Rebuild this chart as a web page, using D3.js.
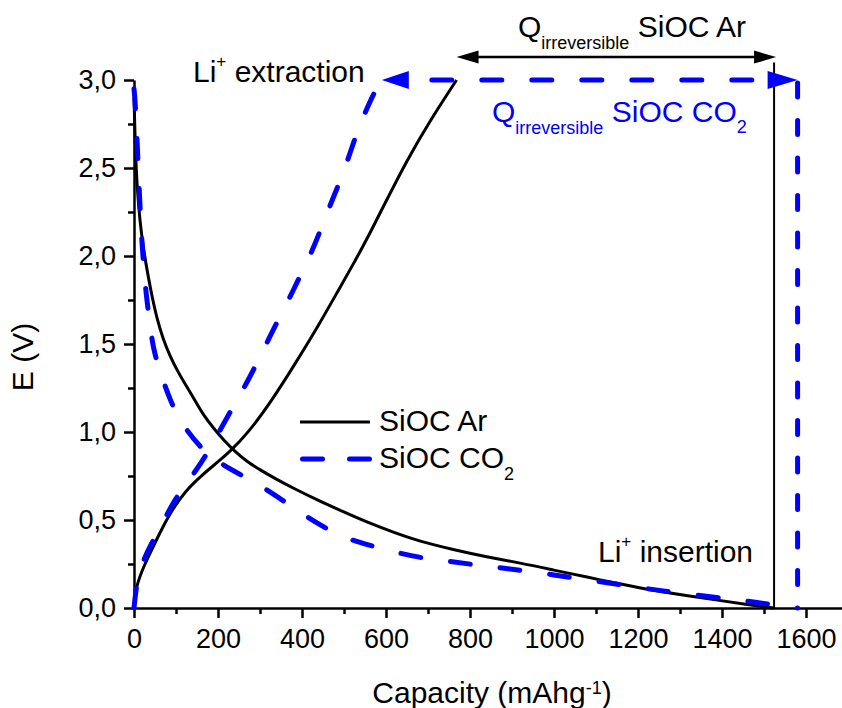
<!DOCTYPE html>
<html>
<head>
<meta charset="utf-8">
<script src="https://cdn.jsdelivr.net/npm/d3@7"></script>
<style>
  body { margin: 0; background: #fff; }
  svg { display: block; }
  text { font-family: "Liberation Sans", Arial, sans-serif; }
</style>
</head>
<body>
<svg id="chart" width="842" height="708"></svg>
<script>
// First-cycle galvanostatic profiles of SiOC anodes (Ar vs CO2 pyrolysis)

// SiOC Ar — lithiation (Li+ insertion), capacity in mAh/g, potential in V
const arInsertQ = [0, 2, 5, 9, 14, 22, 31, 42, 55, 69, 86, 105, 125, 145, 164, 190, 215, 240, 270, 300, 340, 380, 435, 500, 554, 620, 681, 760, 840, 919, 1000, 1078, 1160, 1236, 1320, 1395, 1460, 1524];
const arInsertE = [2.90, 2.72, 2.49, 2.35, 2.20, 2.05, 1.92, 1.78, 1.64, 1.53, 1.43, 1.34, 1.26, 1.18, 1.10, 1.02, 0.95, 0.89, 0.83, 0.785, 0.73, 0.68, 0.615, 0.545, 0.488, 0.428, 0.378, 0.332, 0.29, 0.256, 0.215, 0.176, 0.135, 0.10, 0.068, 0.043, 0.02, 0.0];

// SiOC Ar — delithiation (Li+ extraction)
const arExtractQ = [0, 2, 6, 14, 26, 40, 60, 86, 120, 164, 200, 229, 270, 326, 387, 443, 490, 526, 562, 602, 649, 705, 768];
const arExtractE = [0, 0.06, 0.12, 0.18, 0.25, 0.32, 0.42, 0.54, 0.66, 0.76, 0.83, 0.89, 0.99, 1.17, 1.40, 1.62, 1.82, 1.97, 2.13, 2.32, 2.54, 2.77, 3.0];

// SiOC CO2 — lithiation
const co2InsertQ = [0, 2, 5, 8, 11, 15, 19, 24, 29, 37, 45, 62, 86, 110, 157, 205, 264, 319, 379, 436, 498, 555, 617, 681, 752, 812, 871, 931, 995, 1050, 1181, 1245, 1424, 1486, 1580];
const co2InsertE = [2.95, 2.90, 2.78, 2.62, 2.45, 2.25, 2.07, 1.92, 1.78, 1.63, 1.48, 1.34, 1.18, 1.06, 0.91, 0.82, 0.745, 0.67, 0.57, 0.48, 0.40, 0.36, 0.32, 0.285, 0.265, 0.245, 0.23, 0.21, 0.19, 0.17, 0.125, 0.10, 0.05, 0.03, 0.0];

// SiOC CO2 — delithiation
const co2ExtractQ = [0, 3, 7, 15, 26, 40, 55, 72, 90, 108, 126, 150, 176, 200, 240, 269, 305, 331, 364, 390, 419, 443, 467, 490, 514, 533, 555, 572, 590];
const co2ExtractE = [0, 0.07, 0.14, 0.22, 0.29, 0.36, 0.42, 0.50, 0.585, 0.65, 0.71, 0.79, 0.885, 0.99, 1.16, 1.28, 1.45, 1.58, 1.73, 1.86, 2.0, 2.14, 2.29, 2.42, 2.58, 2.72, 2.84, 2.93, 3.0];

const xTicks = [0, 200, 400, 600, 800, 1000, 1200, 1400, 1600];
const xMinorTicks = [100, 300, 500, 700, 900, 1100, 1300, 1500, 1700];
const yTicks = [0, 0.5, 1.0, 1.5, 2.0, 2.5, 3.0];
const yMinorTicks = [0.25, 0.75, 1.25, 1.75, 2.25, 2.75];

const seriesNames = ["SiOC Ar", "SiOC CO"];
const cutoffE = 3.0;          // upper cut-off potential
const arArrowE = 3.13;        // level of the Ar irreversible-capacity arrow

const svg = d3.select("#chart");
const x = d3.scaleLinear().domain([0, 1700]).range([134, 848]);
const y = d3.scaleLinear().domain([0, 3]).range([608, 80]);

const BLUE = "#0000ff";
const fmt = d => d3.format(".1f")(d).replace(".", ",");

// ---- axes ----
function styleAxis(g, fontSize) {
  g.attr("font-family", null).attr("font-size", null);
  g.selectAll("path, line").attr("stroke", "#000").attr("stroke-width", 2.5);
  g.selectAll("text").attr("font-size", fontSize).attr("fill", "#000")
    .style("font-family", '"Liberation Sans", Arial, sans-serif');
}

const gyMinor = svg.append("g").attr("transform", `translate(${x(0)},0)`)
  .call(d3.axisLeft(y).tickValues(yMinorTicks).tickSize(6).tickSizeOuter(0).tickFormat(""));
gyMinor.select(".domain").remove();
styleAxis(gyMinor, 27);

const gxMinor = svg.append("g").attr("transform", `translate(0,${y(0)})`)
  .call(d3.axisBottom(x).tickValues(xMinorTicks).tickSize(6).tickSizeOuter(0).tickFormat(""));
gxMinor.select(".domain").remove();
styleAxis(gxMinor, 27);

const gy = svg.append("g").attr("transform", `translate(${x(0)},0)`)
  .call(d3.axisLeft(y).tickValues(yTicks).tickSize(10).tickSizeOuter(0).tickPadding(8).tickFormat(fmt));
styleAxis(gy, 27);

const gx = svg.append("g").attr("transform", `translate(0,${y(0)})`)
  .call(d3.axisBottom(x).tickValues(xTicks).tickSize(10).tickSizeOuter(0).tickPadding(11).tickFormat(d3.format("d")));
styleAxis(gx, 27);

// axis titles
svg.append("text")
  .attr("transform", `translate(33,357) rotate(-90)`)
  .attr("text-anchor", "middle").attr("font-size", 30)
  .text("E (V)");

const xt = svg.append("text")
  .attr("x", 492).attr("y", 703).attr("text-anchor", "middle").attr("font-size", 30);
xt.append("tspan").text("Capacity (mAhg");
xt.append("tspan").attr("font-size", 18).attr("dy", -9).text("-1");
xt.append("tspan").attr("dy", 9).text(")");

// ---- curves ----
const line = d3.line().x(d => x(d[0])).y(d => y(d[1])).curve(d3.curveBasis);

const plot = svg.append("g");

plot.append("path").datum(d3.zip(arInsertQ, arInsertE))
  .attr("d", line).attr("fill", "none").attr("stroke", "#000").attr("stroke-width", 3);
plot.append("path").datum(d3.zip(arExtractQ, arExtractE))
  .attr("d", line).attr("fill", "none").attr("stroke", "#000").attr("stroke-width", 3);

// irreversible capacity markers, Ar
const arEndQ = arInsertQ[arInsertQ.length - 1];
const arTopQ = arExtractQ[arExtractQ.length - 1];
plot.append("line")
  .attr("x1", x(arEndQ)).attr("x2", x(arEndQ))
  .attr("y1", y(0)).attr("y2", y(3.1))
  .attr("stroke", "#000").attr("stroke-width", 2);

const dashed = "20,30";
plot.append("path").datum(d3.zip(co2InsertQ, co2InsertE))
  .attr("d", line).attr("fill", "none").attr("stroke", BLUE).attr("stroke-width", 5)
  .attr("stroke-dasharray", dashed).attr("stroke-linecap", "round");
plot.append("path").datum(d3.zip(co2ExtractQ, co2ExtractE))
  .attr("d", line).attr("fill", "none").attr("stroke", BLUE).attr("stroke-width", 5)
  .attr("stroke-dasharray", dashed).attr("stroke-linecap", "round");

// irreversible capacity markers, CO2
const co2EndQ = co2InsertQ[co2InsertQ.length - 1];
const co2TopQ = co2ExtractQ[co2ExtractQ.length - 1];
const headL = 27, headH = 9;
plot.append("line")
  .attr("x1", x(co2EndQ)).attr("x2", x(co2EndQ))
  .attr("y1", y(cutoffE) + 3).attr("y2", y(0))
  .attr("stroke", BLUE).attr("stroke-width", 5)
  .attr("stroke-dasharray", "14,23.5").attr("stroke-linecap", "round");
plot.append("line")
  .attr("x1", x(co2TopQ) + headL).attr("x2", x(co2EndQ) - headL - 3)
  .attr("y1", y(cutoffE)).attr("y2", y(cutoffE))
  .attr("stroke", BLUE).attr("stroke-width", 5)
  .attr("stroke-dasharray", "20,30").attr("stroke-dashoffset", 27)
  .attr("stroke-linecap", "round");

function arrowHead(g, tipX, tipY, dir, len, half, color) {
  const bx = tipX - dir * len;
  g.append("path")
    .attr("d", `M${tipX},${tipY}L${bx},${tipY - half}L${bx},${tipY + half}Z`)
    .attr("fill", color);
}
arrowHead(plot, x(co2TopQ), y(cutoffE), -1, headL, headH, BLUE);
arrowHead(plot, x(co2EndQ), y(cutoffE), 1, headL + 3, headH, BLUE);

// Ar double arrow above the cut-off
plot.append("line")
  .attr("x1", x(arTopQ) + 10).attr("x2", x(arEndQ) - 10)
  .attr("y1", y(arArrowE)).attr("y2", y(arArrowE))
  .attr("stroke", "#000").attr("stroke-width", 2.5);
arrowHead(plot, x(arTopQ), y(arArrowE), -1, 22, 6.5, "#000");
arrowHead(plot, x(arEndQ) + 2, y(arArrowE), 1, 22, 6.5, "#000");

// ---- annotations ----
function qLabel(xPos, yPos, tail, sub, color) {
  const t = svg.append("text").attr("x", xPos).attr("y", yPos)
    .attr("font-size", 30).attr("fill", color);
  t.append("tspan").text("Q");
  t.append("tspan").attr("font-size", 18).attr("dy", 12).text("irreversible");
  t.append("tspan").attr("dy", -12).text(" " + tail);
  if (sub) t.append("tspan").attr("font-size", 18).attr("dy", 11).text(sub);
}
qLabel(518, 37, "SiOC Ar", null, "#000");
qLabel(492, 122, "SiOC CO", "2", BLUE);

function liLabel(xPos, yPos, word) {
  const t = svg.append("text").attr("x", xPos).attr("y", yPos).attr("font-size", 30);
  t.append("tspan").text("Li");
  t.append("tspan").attr("font-size", 17).attr("dy", -15).text("+");
  t.append("tspan").attr("dy", 15).text(" " + word);
}
liLabel(193, 82, "extraction");
liLabel(598, 562, "insertion");

// ---- legend ----
const lg = svg.append("g");
lg.append("line").attr("x1", 300).attr("x2", 370).attr("y1", 422).attr("y2", 422)
  .attr("stroke", "#000").attr("stroke-width", 3);
lg.append("text").attr("x", 379).attr("y", 431).attr("font-size", 30).text(seriesNames[0]);
lg.append("line").attr("x1", 302.5).attr("x2", 369.5).attr("y1", 459).attr("y2", 459)
  .attr("stroke", BLUE).attr("stroke-width", 5)
  .attr("stroke-dasharray", "20,27").attr("stroke-linecap", "round");
const lt = lg.append("text").attr("x", 379).attr("y", 468).attr("font-size", 30);
lt.append("tspan").text(seriesNames[1]);
lt.append("tspan").attr("font-size", 18).attr("dy", 12).text("2");
</script>
</body>
</html>
